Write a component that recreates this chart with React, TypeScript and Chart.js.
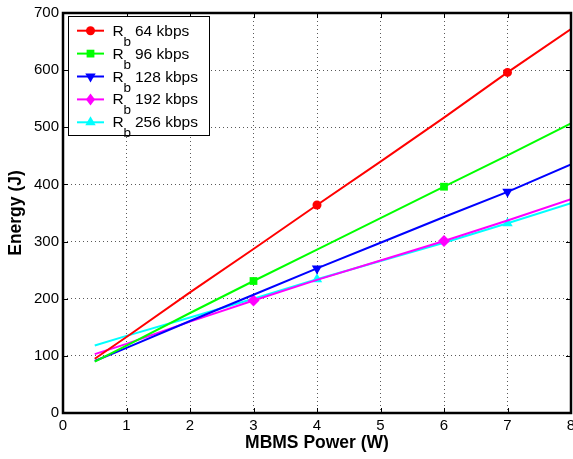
import { useEffect, useRef } from "react";
import { Chart, registerables } from "chart.js";

Chart.register(...registerables);

const powerW = [0.5, 1, 2, 3, 4, 5, 6, 7, 8];
const energy64 = [95, 133, 211, 287, 364, 440, 517, 596, 672];
const energy96 = [90, 118, 175, 231, 286, 341, 396, 451, 507];
const energy128 = [91, 114, 161, 207, 253, 298, 343, 387, 435];
const energy192 = [103, 121, 160, 197, 233, 267, 301, 337, 374];
const energy256 = [118, 135, 167, 200, 234, 266, 298, 332, 367];
const seriesNames = ["64 kbps", "96 kbps", "128 kbps", "192 kbps", "256 kbps"];
const xTicks = [0, 1, 2, 3, 4, 5, 6, 7, 8];
const yTicks = [0, 100, 200, 300, 400, 500, 600, 700];

const FONT = "'Liberation Sans', Arial, Helvetica, sans-serif";

type Mk = { color: string; style: string; rot: number; radius: number; marks: number[]; values: number[] };

const series: Mk[] = [
  { color: "#ff0000", style: "circle", rot: 0, radius: 4.5, marks: [4, 7], values: energy64 },
  { color: "#00ff00", style: "rect", rot: 0, radius: 5.5, marks: [3, 6], values: energy96 },
  { color: "#0000ff", style: "triangle", rot: 180, radius: 6, marks: [4, 7], values: energy128 },
  { color: "#ff00ff", style: "rectRot", rot: 0, radius: 6, marks: [3, 6], values: energy192 },
  { color: "#00ffff", style: "triangle", rot: 0, radius: 6, marks: [4, 7], values: energy256 },
];

function drawMarker(ctx: CanvasRenderingContext2D, m: Mk, x: number, y: number) {
  ctx.fillStyle = m.color;
  ctx.beginPath();
  const r = m.radius;
  if (m.style === "circle") {
    ctx.arc(x, y, r, 0, Math.PI * 2);
  } else if (m.style === "rect") {
    const s = r * Math.SQRT1_2;
    ctx.rect(x - s, y - s, 2 * s, 2 * s);
  } else if (m.style === "rectRot") {
    ctx.moveTo(x, y - r);
    ctx.lineTo(x + r * 0.75, y);
    ctx.lineTo(x, y + r);
    ctx.lineTo(x - r * 0.75, y);
    ctx.closePath();
  } else {
    const dir = m.rot === 180 ? -1 : 1;
    const h = r * 1.5;
    const w = r * 0.866;
    ctx.moveTo(x, y - dir * r);
    ctx.lineTo(x + w, y - dir * (r - h));
    ctx.lineTo(x - w, y - dir * (r - h));
    ctx.closePath();
  }
  ctx.fill();
}

const framePlugin = {
  id: "frame",
  afterDraw(chart: any) {
    const { ctx, chartArea: a, scales } = chart;
    ctx.save();
    ctx.strokeStyle = "#000";
    ctx.lineWidth = 1;
    ctx.beginPath();
    for (const v of xTicks) {
      const px = Math.round(scales.x.getPixelForValue(v)) + 0.5;
      ctx.moveTo(px, a.bottom);
      ctx.lineTo(px, a.bottom - 5);
      ctx.moveTo(px, a.top);
      ctx.lineTo(px, a.top + 5);
    }
    for (const v of yTicks) {
      const py = Math.round(scales.y.getPixelForValue(v)) + 0.5;
      ctx.moveTo(a.left, py);
      ctx.lineTo(a.left + 5, py);
      ctx.moveTo(a.right, py);
      ctx.lineTo(a.right - 5, py);
    }
    ctx.stroke();
    ctx.lineWidth = 2.5;
    ctx.strokeRect(a.left, a.top, a.right - a.left, a.bottom - a.top);

    // legend
    const bx = 68.5, by = 16.5, bw = 141, bh = 119;
    ctx.fillStyle = "#fff";
    ctx.fillRect(bx, by, bw, bh);
    ctx.lineWidth = 1;
    ctx.strokeStyle = "#000";
    ctx.strokeRect(bx, by, bw, bh);
    series.forEach((m, i) => {
      const cy = 30.7 + 22.9 * i;
      ctx.strokeStyle = m.color;
      ctx.lineWidth = 2;
      ctx.beginPath();
      ctx.moveTo(77, cy);
      ctx.lineTo(104, cy);
      ctx.stroke();
      drawMarker(ctx, m, 90.5, cy);
      ctx.fillStyle = "#000";
      ctx.textBaseline = "alphabetic";
      ctx.textAlign = "left";
      ctx.font = `15.5px ${FONT}`;
      ctx.fillText("R", 112.5, cy + 5);
      ctx.fillText(seriesNames[i], 135, cy + 5);
      ctx.font = `13.5px ${FONT}`;
      ctx.fillText("b", 123.5, cy + 15);
    });
    ctx.restore();
  },
};

export default function App() {
  const ref = useRef<HTMLCanvasElement | null>(null);
  useEffect(() => {
    if (!ref.current) return;
    const datasets = series.map((m, i) => ({
      label: seriesNames[i],
      data: powerW.map((x, j) => ({ x, y: m.values[j] })),
      borderColor: m.color,
      backgroundColor: m.color,
      borderWidth: 2,
      pointStyle: m.style,
      pointRotation: m.rot,
      pointRadius: powerW.map((_, j) => (m.marks.includes(j) ? m.radius : 0)),
      pointHoverRadius: 0,
      pointBorderWidth: 0,
      tension: 0,
      fill: false,
    }));
    const chart = new Chart(ref.current, {
      type: "line",
      data: { datasets },
      plugins: [framePlugin],
      options: {
        animation: false,
        responsive: false,
        devicePixelRatio: 1,
        layout: { padding: { top: 13, right: 2, left: 0, bottom: 0 } },
        plugins: { legend: { display: false }, tooltip: { enabled: false } },
        scales: {
          x: {
            type: "linear",
            min: 0,
            max: 8,
            afterBuildTicks: (s: any) => {
              s.ticks = xTicks.map((v) => ({ value: v }));
            },
            afterFit: (s: any) => {
              s.height = 46;
              s.paddingLeft = 0;
              s.paddingRight = 0;
            },
            ticks: { color: "#000", font: { family: FONT, size: 15 }, padding: 4, maxRotation: 0, autoSkip: false },
            grid: { color: "rgba(0,0,0,0.65)", lineWidth: 1, drawTicks: false, tickLength: 0 },
            border: { display: false, dash: [1, 3] },
            title: {
              display: true,
              text: "MBMS Power (W)",
              color: "#000",
              font: { family: FONT, size: 17.5, weight: "bold" },
              padding: { top: 0, bottom: 5.5 },
            },
          },
          y: {
            type: "linear",
            min: 0,
            max: 700,
            afterBuildTicks: (s: any) => {
              s.ticks = yTicks.map((v) => ({ value: v }));
            },
            afterFit: (s: any) => {
              s.width = 63;
              s.paddingTop = 0;
              s.paddingBottom = 0;
            },
            ticks: { color: "#000", font: { family: FONT, size: 15 }, padding: 4, autoSkip: false },
            grid: { color: "rgba(0,0,0,0.65)", lineWidth: 1, drawTicks: false, tickLength: 0 },
            border: { display: false, dash: [1, 3] },
            title: {
              display: true,
              text: "Energy (J)",
              color: "#000",
              font: { family: FONT, size: 17.5, weight: "bold" },
              padding: { top: 6, bottom: 0 },
            },
          },
        },
      } as any,
    });
    return () => chart.destroy();
  }, []);
  return (
    <div style={{ position: "fixed", left: 0, top: 0, width: 573, height: 459, background: "#fff" }}>
      <canvas ref={ref} width={573} height={459} style={{ width: 573, height: 459, display: "block" }} />
    </div>
  );
}
